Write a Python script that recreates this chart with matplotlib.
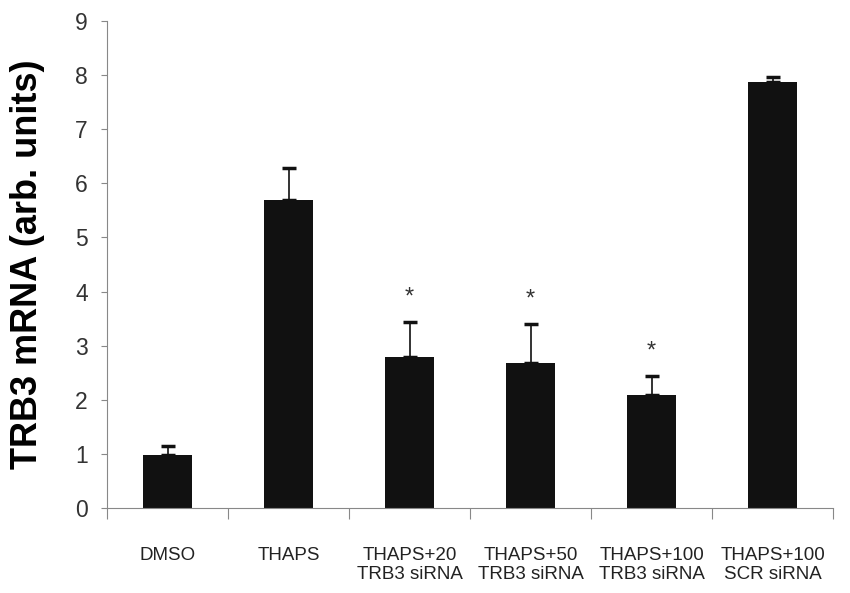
import matplotlib.pyplot as plt
import numpy as np

categories = ['DMSO', 'THAPS', 'THAPS+20\nTRB3 siRNA', 'THAPS+50\nTRB3 siRNA',
              'THAPS+100\nTRB3 siRNA', 'THAPS+100\nSCR siRNA']
means = [0.98, 5.69, 2.79, 2.68, 2.09, 7.87]
errs = [0.17, 0.59, 0.65, 0.72, 0.35, 0.09]
stars = [False, False, True, True, True, False]

plt.rcParams['font.family'] = ['Liberation Sans', 'DejaVu Sans']

fig = plt.figure(figsize=(8.5, 5.93), dpi=100)
ax = fig.add_axes([0.126, 0.143, 0.854, 0.822])

x = np.arange(len(categories)) + 0.5
ax.bar(x, means, width=0.4, color='#111111', zorder=2)
ax.errorbar(x, means, yerr=[np.zeros(len(errs)), errs], fmt='none',
            ecolor='#111111', elinewidth=1.2, capsize=5, capthick=2.5, zorder=1)
for xi, m, e, s in zip(x, means, errs, stars):
    if s:
        ax.text(xi, m + e + 0.45, '*', ha='center', va='center', fontsize=17, color='#333333')

ax.set_xlim(0, len(categories))
ax.set_ylim(0, 9)
ax.set_yticks(range(10))
ax.tick_params(axis='y', labelsize=16.5, length=4, color='#888888', pad=10, labelcolor='#333333')
ax.set_xticks(np.arange(len(categories) + 1))
ax.set_xticklabels([])
ax.set_xticks(x, minor=True)
ax.set_xticklabels(categories, minor=True, fontsize=13.5, color='#222222', linespacing=1.15)
ax.tick_params(axis='x', which='major', length=8, color='#888888', direction='out')
ax.tick_params(axis='x', which='minor', length=0, pad=28)

for side in ['top', 'right']:
    ax.spines[side].set_visible(False)
ax.spines['left'].set_color('#888888')
ax.spines['bottom'].set_color('#888888')

ax.set_ylabel('TRB3 mRNA (arb. units)', fontsize=26, fontweight='bold')
ax.yaxis.set_label_coords(-0.086, 0.5)

fig.savefig('out.png', dpi=100)
